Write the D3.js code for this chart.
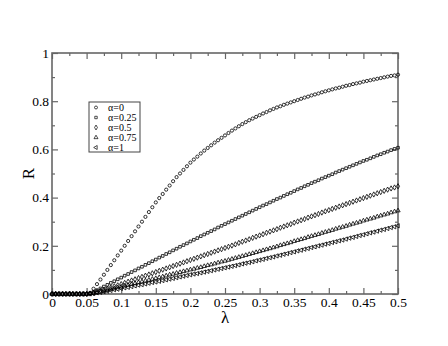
<!DOCTYPE html>
<html>
<head>
<meta charset="utf-8">
<script src="https://cdn.jsdelivr.net/npm/d3@7"></script>
<style>
  body { margin: 0; background: #fff; }
  svg text { font-family: 'Liberation Serif', 'Times New Roman', Times, 'DejaVu Serif', serif !important; }
</style>
</head>
<body>
<div id="chart"></div>
<script>
// lambda grid (x values)
var lambda = [
  0, 0.005, 0.01, 0.015, 0.02, 0.025, 0.03, 0.035, 0.04, 0.045,
  0.05, 0.055, 0.06, 0.065, 0.07, 0.075, 0.08, 0.085, 0.09, 0.095,
  0.1, 0.105, 0.11, 0.115, 0.12, 0.125, 0.13, 0.135, 0.14, 0.145,
  0.15, 0.155, 0.16, 0.165, 0.17, 0.175, 0.18, 0.185, 0.19, 0.195,
  0.2, 0.205, 0.21, 0.215, 0.22, 0.225, 0.23, 0.235, 0.24, 0.245,
  0.25, 0.255, 0.26, 0.265, 0.27, 0.275, 0.28, 0.285, 0.29, 0.295,
  0.3, 0.305, 0.31, 0.315, 0.32, 0.325, 0.33, 0.335, 0.34, 0.345,
  0.35, 0.355, 0.36, 0.365, 0.37, 0.375, 0.38, 0.385, 0.39, 0.395,
  0.4, 0.405, 0.41, 0.415, 0.42, 0.425, 0.43, 0.435, 0.44, 0.445,
  0.45, 0.455, 0.46, 0.465, 0.47, 0.475, 0.48, 0.485, 0.49, 0.495,
  0.5
];

// R for alpha = 0
var r_a0 = [
  0, 0, 0, 0, 0, 0, 0, 0, 0, 0,
  0, 0.004, 0.022, 0.041, 0.06, 0.08, 0.10, 0.12, 0.14, 0.16,
  0.18, 0.20, 0.22, 0.24, 0.26, 0.28, 0.30, 0.32, 0.34, 0.36,
  0.38, 0.398, 0.415, 0.433, 0.45, 0.468, 0.485, 0.50, 0.515, 0.53,
  0.545, 0.558, 0.57, 0.583, 0.595, 0.606, 0.617, 0.628, 0.638, 0.648,
  0.658, 0.668, 0.678, 0.687, 0.696, 0.705, 0.713, 0.721, 0.728, 0.735,
  0.742, 0.749, 0.755, 0.762, 0.768, 0.774, 0.779, 0.785, 0.79, 0.795,
  0.80, 0.805, 0.81, 0.815, 0.819, 0.824, 0.828, 0.832, 0.837, 0.841,
  0.845, 0.849, 0.853, 0.856, 0.86, 0.864, 0.867, 0.871, 0.874, 0.877,
  0.881, 0.884, 0.887, 0.89, 0.893, 0.896, 0.899, 0.902, 0.905, 0.907,
  0.91
];

// R for alpha = 0.25
var r_a25 = [
  0, 0, 0, 0, 0, 0, 0, 0, 0, 0,
  0, 0.003, 0.009, 0.016, 0.023, 0.031, 0.038, 0.046, 0.053, 0.061,
  0.068, 0.076, 0.083, 0.091, 0.098, 0.106, 0.113, 0.121, 0.128, 0.136,
  0.143, 0.151, 0.158, 0.166, 0.173, 0.181, 0.188, 0.196, 0.203, 0.21,
  0.218, 0.225, 0.232, 0.24, 0.247, 0.254, 0.261, 0.268, 0.276, 0.283,
  0.29, 0.297, 0.304, 0.311, 0.318, 0.325, 0.332, 0.339, 0.346, 0.353,
  0.36, 0.367, 0.373, 0.38, 0.387, 0.394, 0.40, 0.407, 0.414, 0.42,
  0.427, 0.434, 0.44, 0.447, 0.453, 0.46, 0.466, 0.472, 0.479, 0.485,
  0.491, 0.497, 0.504, 0.51, 0.516, 0.522, 0.528, 0.534, 0.54, 0.546,
  0.552, 0.557, 0.563, 0.569, 0.575, 0.58, 0.586, 0.591, 0.597, 0.602,
  0.607
];

// R for alpha = 0.5
var r_a50 = [
  0, 0, 0, 0, 0, 0, 0, 0, 0, 0,
  0, 0.002, 0.005, 0.01, 0.014, 0.018, 0.022, 0.027, 0.032, 0.036,
  0.041, 0.046, 0.051, 0.056, 0.061, 0.066, 0.071, 0.076, 0.081, 0.086,
  0.091, 0.096, 0.101, 0.106, 0.111, 0.116, 0.121, 0.126, 0.131, 0.136,
  0.141, 0.146, 0.151, 0.156, 0.161, 0.166, 0.171, 0.176, 0.181, 0.186,
  0.191, 0.196, 0.201, 0.206, 0.212, 0.217, 0.222, 0.227, 0.233, 0.238,
  0.243, 0.248, 0.254, 0.259, 0.264, 0.269, 0.275, 0.28, 0.285, 0.29,
  0.296, 0.301, 0.306, 0.311, 0.317, 0.322, 0.327, 0.332, 0.338, 0.343,
  0.348, 0.353, 0.358, 0.363, 0.368, 0.373, 0.378, 0.383, 0.388, 0.393,
  0.398, 0.403, 0.408, 0.413, 0.418, 0.423, 0.428, 0.433, 0.438, 0.442,
  0.447
];

// R for alpha = 0.75
var r_a75 = [
  0, 0, 0, 0, 0, 0, 0, 0, 0, 0,
  0, 0.001, 0.003, 0.006, 0.009, 0.013, 0.016, 0.02, 0.023, 0.027,
  0.03, 0.034, 0.037, 0.041, 0.044, 0.048, 0.051, 0.055, 0.058, 0.062,
  0.065, 0.069, 0.072, 0.076, 0.08, 0.083, 0.087, 0.09, 0.094, 0.097,
  0.101, 0.104, 0.108, 0.111, 0.115, 0.119, 0.122, 0.126, 0.13, 0.134,
  0.137, 0.141, 0.145, 0.149, 0.153, 0.157, 0.161, 0.165, 0.169, 0.173,
  0.177, 0.181, 0.185, 0.189, 0.193, 0.197, 0.202, 0.206, 0.21, 0.214,
  0.219, 0.223, 0.227, 0.231, 0.236, 0.24, 0.244, 0.248, 0.253, 0.257,
  0.261, 0.265, 0.27, 0.274, 0.278, 0.282, 0.287, 0.291, 0.295, 0.299,
  0.304, 0.308, 0.312, 0.316, 0.321, 0.325, 0.329, 0.333, 0.338, 0.342,
  0.346
];

// R for alpha = 1
var r_a100 = [
  0, 0, 0, 0, 0, 0, 0, 0, 0, 0,
  0, 0.001, 0.002, 0.005, 0.007, 0.01, 0.012, 0.015, 0.018, 0.02,
  0.023, 0.026, 0.028, 0.031, 0.034, 0.037, 0.039, 0.042, 0.045, 0.048,
  0.05, 0.053, 0.056, 0.059, 0.062, 0.065, 0.068, 0.071, 0.074, 0.077,
  0.08, 0.083, 0.085, 0.088, 0.091, 0.094, 0.097, 0.10, 0.103, 0.106,
  0.109, 0.112, 0.115, 0.118, 0.121, 0.125, 0.128, 0.131, 0.134, 0.138,
  0.141, 0.144, 0.148, 0.151, 0.154, 0.158, 0.161, 0.165, 0.168, 0.172,
  0.175, 0.179, 0.182, 0.186, 0.189, 0.193, 0.196, 0.20, 0.203, 0.207,
  0.21, 0.214, 0.217, 0.221, 0.224, 0.228, 0.232, 0.235, 0.239, 0.243,
  0.246, 0.25, 0.254, 0.257, 0.261, 0.265, 0.268, 0.272, 0.276, 0.279,
  0.283
];

var seriesNames = ["\u03b1=0", "\u03b1=0.25", "\u03b1=0.5", "\u03b1=0.75", "\u03b1=1"];
var seriesValues = [r_a0, r_a25, r_a50, r_a75, r_a100];

var xMajor = [0, 0.05, 0.1, 0.15, 0.2, 0.25, 0.3, 0.35, 0.4, 0.45, 0.5];
var xMinor = [0.025, 0.075, 0.125, 0.175, 0.225, 0.275, 0.325, 0.375, 0.425, 0.475];
var yMajor = [0, 0.2, 0.4, 0.6, 0.8, 1];
var yMinor = [0.1, 0.3, 0.5, 0.7, 0.9];

// set the dimensions and margins of the graph
var margin = {top: 53, right: 50, bottom: 52, left: 52},
    width = 448 - margin.left - margin.right,
    height = 346 - margin.top - margin.bottom;

var svg = d3.select("#chart")
  .append("svg")
    .attr("width", 448)
    .attr("height", 346)
  .append("g")
    .attr("transform", "translate(" + margin.left + "," + margin.top + ")");

var x = d3.scaleLinear().domain([0, 0.5]).range([0, width]);
var y = d3.scaleLinear().domain([0, 1]).range([height, 0]);

var frameColor = "#666";

function styleAxis(g) {
  g.attr("font-family", null).attr("font-size", 13.5);
  g.select(".domain").remove();
  g.selectAll(".tick line").attr("stroke", frameColor).attr("stroke-width", 1.2);
  g.selectAll(".tick text").attr("fill", "#000");
}

var fmt = function(d) { return d === 0 ? "0" : (d === 1 ? "1" : String(d)); };

// bottom axis
svg.append("g")
  .attr("transform", "translate(0," + height + ")")
  .call(d3.axisBottom(x).tickValues(xMajor).tickSize(-6).tickPadding(3).tickFormat(fmt))
  .call(styleAxis);
svg.append("g")
  .attr("transform", "translate(0," + height + ")")
  .call(d3.axisBottom(x).tickValues(xMinor).tickSize(-3).tickFormat(""))
  .call(styleAxis);
// top axis
svg.append("g")
  .call(d3.axisTop(x).tickValues(xMajor).tickSize(-6).tickFormat(""))
  .call(styleAxis);
svg.append("g")
  .call(d3.axisTop(x).tickValues(xMinor).tickSize(-3).tickFormat(""))
  .call(styleAxis);
// left axis
svg.append("g")
  .call(d3.axisLeft(y).tickValues(yMajor).tickSize(-6).tickPadding(3).tickFormat(fmt))
  .call(styleAxis);
svg.append("g")
  .call(d3.axisLeft(y).tickValues(yMinor).tickSize(-3).tickFormat(""))
  .call(styleAxis);
// right axis
svg.append("g")
  .attr("transform", "translate(" + width + ",0)")
  .call(d3.axisRight(y).tickValues(yMajor).tickSize(-6).tickFormat(""))
  .call(styleAxis);
svg.append("g")
  .attr("transform", "translate(" + width + ",0)")
  .call(d3.axisRight(y).tickValues(yMinor).tickSize(-3).tickFormat(""))
  .call(styleAxis);

// frame
svg.append("rect")
  .attr("x", 0).attr("y", 0)
  .attr("width", width).attr("height", height)
  .attr("fill", "none")
  .attr("stroke", frameColor)
  .attr("stroke-width", 1.6);

// symbols
var symbolTypes = [d3.symbolCircle, d3.symbolSquare, d3.symbolDiamond, d3.symbolTriangle, d3.symbolTriangle];
var symbolRotate = [0, 0, 0, 0, -90];
var symbolSize = [8, 7, 8, 8, 8];

seriesValues.forEach(function(vals, s) {
  var pts = lambda.map(function(l, i) { return {l: l, r: vals[i]}; });
  var sym = d3.symbol().type(symbolTypes[s]).size(symbolSize[s]);
  svg.append("g")
    .selectAll("path")
    .data(pts)
    .enter()
    .append("path")
      .attr("d", sym)
      .attr("transform", function(d) {
        return "translate(" + x(d.l) + "," + y(d.r) + ") rotate(" + symbolRotate[s] + ")";
      })
      .attr("fill", "none")
      .attr("stroke", "#000")
      .attr("stroke-width", 0.8);
});

// axis titles
svg.append("text")
  .attr("x", width / 2)
  .attr("y", height + 29)
  .attr("text-anchor", "middle")
  .attr("font-size", 17)
  .text("\u03bb");

svg.append("text")
  .attr("transform", "translate(" + (-24) + "," + (height / 2) + ") rotate(-90)")
  .attr("text-anchor", "middle")
  .attr("dy", "0.35em")
  .attr("font-size", 17)
  .text("R");

// legend
var legend = svg.append("g").attr("transform", "translate(37,49)");
legend.append("rect")
  .attr("x", 0).attr("y", 0)
  .attr("width", 51).attr("height", 50)
  .attr("fill", "#fff")
  .attr("stroke", "#444")
  .attr("stroke-width", 1);

seriesNames.forEach(function(name, s) {
  var row = legend.append("g").attr("transform", "translate(0," + (5.5 + s * 10) + ")");
  row.append("path")
    .attr("d", d3.symbol().type(symbolTypes[s]).size(symbolSize[s] - 1))
    .attr("transform", "translate(7,0) rotate(" + symbolRotate[s] + ")")
    .attr("fill", "none")
    .attr("stroke", "#000")
    .attr("stroke-width", 0.7);
  row.append("text")
    .attr("x", 19)
    .attr("dy", "0.35em")
    .attr("font-size", 10)
    .text(name);
});
</script>
</body>
</html>
